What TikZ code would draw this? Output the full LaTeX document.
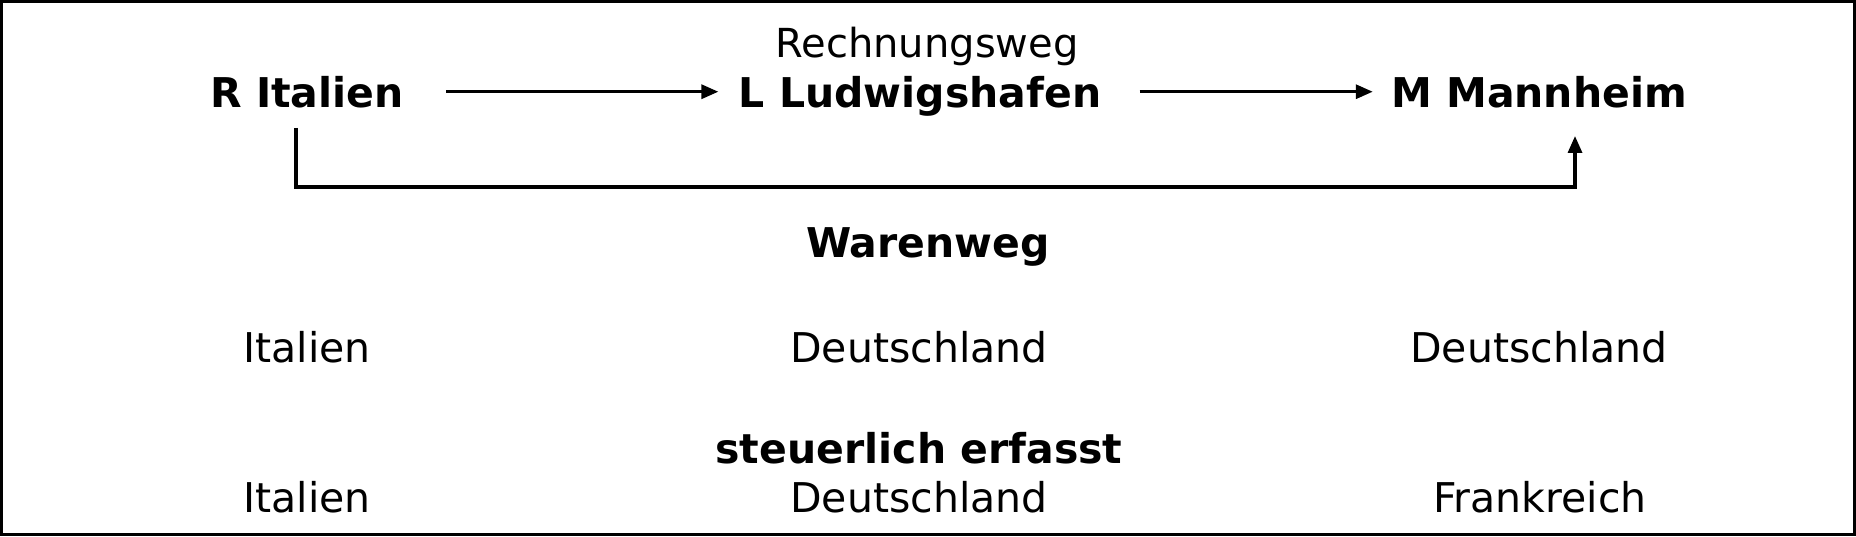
\documentclass[tikz,border=0pt]{standalone}
\usepackage{fontspec}
\setmainfont{DejaVu Sans}
\usetikzlibrary{arrows.meta}

\begin{document}
\begin{tikzpicture}[x=0.5pt,y=-0.5pt,
   every node/.style={inner sep=0pt,anchor=base},
   firma/.style={font=\fontsize{20.5}{24}\selectfont\bfseries},
   land/.style={font=\fontsize{20.5}{24}\selectfont},
   pfeil/.style={-{Triangle[length=8.5pt,width=7pt]},line width=1.6pt}]
   \useasboundingbox (0,0) rectangle (1856,536);
   \draw[line width=1.6pt] (1.6,1.6) rectangle (1854.4,534.4);
   \node[font=\fontsize{20}{24}\selectfont] (rw) at (927,57) {Rechnungsweg};
   \node[firma] (ri) at (307,107) {R Italien};
   \node[firma] (lu) at (920,107) {L Ludwigshafen};
   \node[firma] (ma) at (1539,107) {M Mannheim};
   \node[firma] (ww) at (928,257) {Warenweg};
   \node[land] (w1) at (307,362) {Italien};
   \node[land] (w2) at (919,362) {Deutschland};
   \node[land] (w3) at (1539,362) {Deutschland};
   \node[firma] (se) at (919,463) {steuerlich erfasst};
   \node[land] (s1) at (307,512) {Italien};
   \node[land] (s2) at (919,512) {Deutschland};
   \node[land] (s3) at (1540,512) {Frankreich};
   \coordinate (knick) at (1575,187);
   \draw[pfeil] ([xshift=21pt]ri.east) -- ([xshift=-10pt]ri.east -| lu.west);
   \draw[pfeil] ([xshift=19pt]lu.east |- ri.east) -- ([xshift=-9pt]ri.east -| ma.west);
   \draw[pfeil] ([xshift=-5.5pt,yshift=-10pt]ri.south) |- (knick) -- ([xshift=18pt,yshift=-14pt]ma.south);
\end{tikzpicture}
\end{document}
